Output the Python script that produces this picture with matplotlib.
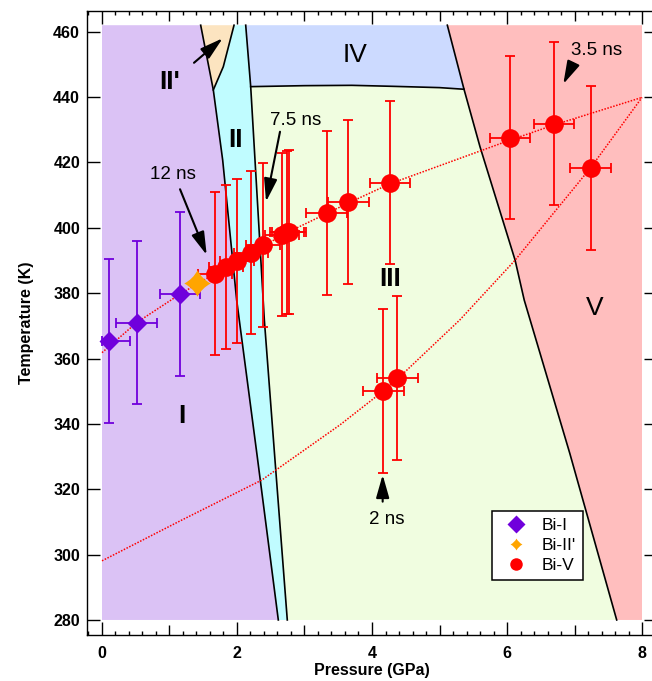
import matplotlib
matplotlib.use('Agg')
import matplotlib.pyplot as plt
from matplotlib.path import Path
from matplotlib.lines import Line2D
from matplotlib.ticker import MultipleLocator, FixedLocator, FuncFormatter

plt.rcParams['font.family'] = ['Liberation Sans', 'DejaVu Sans']

# phase boundaries, pressure (GPa) / temperature (K)
left_line_p = [1.462, 1.649, 1.788, 1.995, 2.30, 2.612]
left_line_t = [462, 442.2, 420.7, 377.9, 330, 280]
right_line_p = [2.129, 2.203, 2.30, 2.405, 2.57, 2.745]
right_line_t = [462, 443.2, 409, 371.8, 327, 280]
iip_line_p = [1.649, 1.797, 1.956]
iip_line_t = [442.2, 449.3, 462]
iv_line_p = [2.203, 3.0, 3.7, 4.3, 5.0, 5.363]
iv_line_t = [443.2, 443.5, 443.6, 443.3, 442.9, 442.4]
v_line_p = [5.116, 5.363, 5.60, 6.12, 6.255, 6.93, 7.625]
v_line_t = [462, 442.4, 424.8, 390.1, 377.9, 331, 280]

# dotted guide curves
fit_hi_p = [0, 0.514, 1.156, 1.67, 2.2, 2.77, 3.33, 3.65, 4.27, 6.04, 6.70, 8.0]
fit_hi_t = [361.8, 371.0, 379.7, 386.0, 392.3, 398.8, 404.4, 407.6, 413.5, 426.8, 431.5, 439.9]
fit_lo_p = [0, 1.156, 2.366, 3.526, 4.17, 4.375, 5.30, 6.12, 7.24, 8.0]
fit_lo_t = [298.1, 310.3, 322.8, 339.7, 350.1, 353.7, 371.8, 390.1, 418.4, 439.9]

# measurements
bi1_p = [0.108, 0.514, 1.156]
bi1_t = [365.4, 371.0, 379.7]
bi1_perr = [[0.108, 0.3, 0.3], [0.3, 0.3, 0.3]]
bi1_terr = [25, 25, 25]

bi2p_p = [1.412]
bi2p_t = [383.0]

bi5_p = [1.674, 1.832, 1.995, 2.207, 2.380, 2.671, 2.736, 2.770,
         3.328, 3.649, 4.267, 6.044, 6.696, 7.240, 4.168, 4.375]
bi5_t = [386.0, 388.0, 389.9, 392.4, 394.7, 397.9, 398.6, 398.7,
         404.5, 407.9, 413.8, 427.6, 431.9, 418.3, 350.1, 354.0]
bi5_perr = [0.25] * 8 + [0.3] * 8
bi5_terr = [25] * 16

phase_names = ["II'", 'II', 'IV', 'III', 'V', 'I']
phase_pos = [(1.007, 442.4), (1.985, 424.8), (3.748, 450.8), (4.267, 382.2), (7.30, 373.2), (1.18, 340.4)]
phase_bold = [True, True, False, True, False, True]

notes = ['12 ns', '7.5 ns', '3.5 ns', '2 ns']
note_pos = [(1.052, 414.9), (2.867, 431.5), (7.33, 452.9), (4.212, 309.4)]
arrow_tail = [(1.156, 411.8), (2.637, 429.4), (6.98, 450.3), (4.158, 316.2), (1.363, 450.5)]
arrow_head = [(1.551, 391.7), (2.43, 408.0), (6.834, 444.0), (4.158, 324.4), (1.788, 458.0)]

T_TOP = 462
T_BOT = 280


def pts(ps, ts):
    return list(zip(ps, ts))


fig = plt.figure(figsize=(6.52, 6.81), dpi=100)
ax = fig.add_axes([87 / 652, (681 - 634.5) / 681, 570 / 652, 624 / 681])

left = pts(left_line_p, left_line_t)
right = pts(right_line_p, right_line_t)
iip = pts(iip_line_p, iip_line_t)
iv = pts(iv_line_p, iv_line_t)
vl = pts(v_line_p, v_line_t)

regions = [
    ([(0, T_BOT), (0, T_TOP)] + left, '#dbc2f5'),
    ([left[0], left[1]] + iip[1:], '#fce4c0'),
    (iip[::-1] + left[2:] + right[::-1], '#c0fcff'),
    ([right[0]] + iv + [vl[0]], '#ccdaff'),
    (iv + vl[2:] + right[::-1][:-1], '#f0fde0'),
    (vl + [(8, T_BOT), (8, T_TOP)], '#ffbebe'),
]
for poly, col in regions:
    ax.fill([p[0] for p in poly], [p[1] for p in poly], color=col, lw=0, zorder=0)

for ps, ts in [(left_line_p, left_line_t), (right_line_p, right_line_t),
               (iip_line_p, iip_line_t), (iv_line_p, iv_line_t), (v_line_p, v_line_t)]:
    ax.plot(ps, ts, color='k', lw=1.2, zorder=1)

ax.plot(fit_hi_p, fit_hi_t, color='red', lw=1.1, ls=(0, (1, 1.0)), zorder=2)
ax.plot(fit_lo_p, fit_lo_t, color='red', lw=1.1, ls=(0, (1, 1.0)), zorder=2)

purple = '#7000dc'
ax.errorbar(bi1_p, bi1_t, xerr=bi1_perr, yerr=bi1_terr, fmt='D', color=purple, ms=10,
            mec='none', elinewidth=1.3, capsize=3.8, capthick=1.3, zorder=3)

# four point star for Bi-II'
star = Path([(0, 1), (0.34, 0.34), (1, 0), (0.34, -0.34), (0, -1), (-0.34, -0.34),
             (-1, 0), (-0.34, 0.34), (0, 1), (0, 1)],
            [Path.MOVETO, Path.CURVE3, Path.CURVE3, Path.CURVE3, Path.CURVE3,
             Path.CURVE3, Path.CURVE3, Path.CURVE3, Path.CURVE3, Path.CLOSEPOLY])
ax.plot(bi2p_p, bi2p_t, ls='none', marker=star, ms=19, color='#ffa500', mec='none', zorder=4)

ax.errorbar(bi5_p, bi5_t, xerr=bi5_perr, yerr=bi5_terr, fmt='o', color='red', ms=13.5,
            mec='none', elinewidth=1.3, capsize=3.8, capthick=1.3, zorder=3)

for name, (x, y), b in zip(phase_names, phase_pos, phase_bold):
    ax.text(x, y, name, fontsize=19, fontweight='bold' if b else 'normal',
            ha='center', va='baseline', zorder=5)

for txt, (x, y) in zip(notes, note_pos):
    ax.text(x, y, txt, fontsize=13.5, ha='center', va='baseline', zorder=5)

for tail, head in zip(arrow_tail, arrow_head):
    ax.annotate('', xy=head, xytext=tail,
                arrowprops=dict(arrowstyle='-|>,head_length=0.7,head_width=0.2', color='k',
                                lw=1.5, mutation_scale=20, shrinkA=0, shrinkB=0),
                zorder=5)

ax.set_xlim(-0.2222, 8.2222)
ax.set_ylim(275.55, 466.5)

ax.xaxis.set_major_locator(FixedLocator(range(0, 9)))
ax.xaxis.set_minor_locator(MultipleLocator(0.2))
ax.xaxis.set_major_formatter(FuncFormatter(lambda v, pos: '%d' % v if int(round(v)) % 2 == 0 else ''))
ax.yaxis.set_major_locator(FixedLocator(range(280, 461, 20)))

ax.tick_params(which='both', direction='in', top=True, right=True, width=1.0)
ax.tick_params(which='major', length=9.2)
ax.tick_params(which='minor', length=3.2)
ax.tick_params(axis='x', which='major', pad=8.5, labelsize=11.5)
ax.tick_params(axis='y', which='major', pad=5, labelsize=11.5)
for lab in ax.get_xticklabels() + ax.get_yticklabels():
    lab.set_fontweight('bold')
for tk, v in zip(ax.xaxis.get_major_ticks(), range(0, 9)):
    if v % 2 == 1:
        tk.tick1line.set_markersize(7.0)
        tk.tick2line.set_markersize(7.0)

for sp in ax.spines.values():
    sp.set_linewidth(1.0)

ax.set_xlabel('Pressure (GPa)', fontsize=11.5, fontweight='bold', labelpad=1)
ax.set_ylabel('Temperature (K)', fontsize=11.5, fontweight='bold', labelpad=14)

handles = [
    Line2D([], [], ls='none', marker='D', ms=9.5, color=purple, mec='none'),
    Line2D([], [], ls='none', marker=star, ms=8.5, color='#ffa500', mec='none'),
    Line2D([], [], ls='none', marker='o', ms=9, color='red', mec='none'),
]
leg = ax.legend(handles, ['Bi-I', "Bi-II'", 'Bi-V'], loc='upper left',
                bbox_to_anchor=(491.7 / 652, 1 - 510.7 / 681), bbox_transform=fig.transFigure,
                borderaxespad=0, fontsize=12.5, frameon=True, fancybox=False, framealpha=1,
                edgecolor='k', handlelength=2.0, handletextpad=0.5, borderpad=0.4,
                labelspacing=0.28)
leg.get_frame().set_linewidth(1.1)
leg.set_zorder(6)

fig.savefig('out.png', dpi=100)
